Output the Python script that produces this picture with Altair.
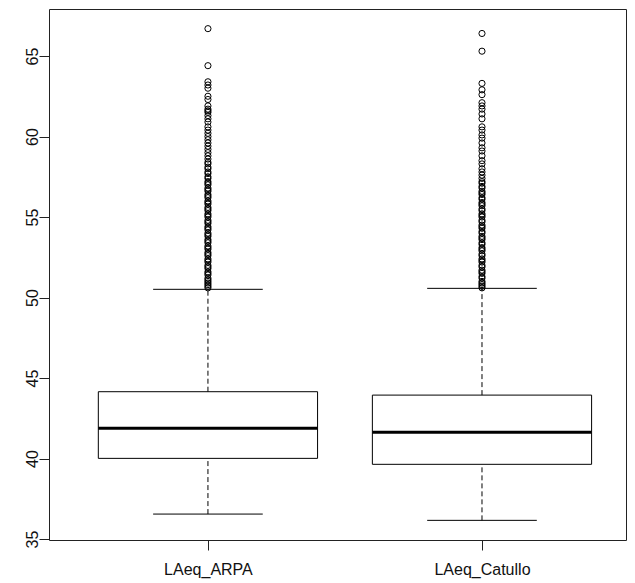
import altair as alt
import pandas as pd

# ---- data ----
groups = ["LAeq_ARPA", "LAeq_Catullo"]
positions = [1, 2]
lower_whisker = [36.55, 36.16]
q1 = [40.01, 39.64]
median = [41.88, 41.63]
q3 = [44.15, 43.94]
upper_whisker = [50.51, 50.57]

outliers_arpa = [66.7, 64.4, 63.4, 63.2, 63.0, 62.5, 62.3, 61.9, 61.7, 61.6, 61.5, 61.3,
                 61.1, 60.9, 60.6, 60.4, 60.2, 60.0, 59.8, 59.6, 59.4, 59.2, 59.0, 58.8,
                 58.6, 58.4, 58.3, 58.1, 58.0, 57.8, 57.7, 57.5, 57.4, 57.2, 57.1, 57.0,
                 56.8, 56.7, 56.6, 56.4, 56.3, 56.2, 56.0, 55.9, 55.8, 55.6, 55.5, 55.4,
                 55.2, 55.1, 55.0, 54.8, 54.7, 54.6, 54.4, 54.3, 54.2, 54.0, 53.9, 53.8,
                 53.6, 53.5, 53.4, 53.2, 53.1, 53.0, 52.8, 52.7, 52.6, 52.4, 52.3, 52.2,
                 52.0, 51.9, 51.8, 51.6, 51.5, 51.4, 51.2, 51.1, 51.0, 50.9, 50.8, 50.7,
                 50.6]
outliers_catullo = [66.4, 65.3, 63.3, 62.9, 62.6, 62.1, 61.9, 61.7, 61.4, 61.1, 60.6, 60.4,
                    60.1, 59.9, 59.6, 59.3, 59.1, 58.8, 58.5, 58.3, 58.0, 57.8, 57.6, 57.4,
                    57.2, 57.1, 56.9, 56.8, 56.6, 56.5, 56.4, 56.2, 56.1, 55.9, 55.8, 55.7,
                    55.5, 55.4, 55.2, 55.1, 55.0, 54.8, 54.7, 54.5, 54.4, 54.3, 54.1, 54.0,
                    53.8, 53.7, 53.6, 53.4, 53.3, 53.1, 53.0, 52.9, 52.7, 52.6, 52.4, 52.3,
                    52.2, 52.0, 51.9, 51.7, 51.6, 51.5, 51.3, 51.2, 51.0, 50.9, 50.8, 50.7,
                    50.6]

y_ticks = [35, 40, 45, 50, 55, 60, 65]

stats = pd.DataFrame({
    "group": groups, "pos": positions, "lo": lower_whisker, "q1": q1,
    "med": median, "q3": q3, "hi": upper_whisker,
})
out = pd.DataFrame({
    "pos": [1] * len(outliers_arpa) + [2] * len(outliers_catullo),
    "value": outliers_arpa + outliers_catullo,
})

FONT = "Liberation Sans"
xscale = alt.Scale(domain=[0.42, 2.5255], nice=False, zero=False)
yscale = alt.Scale(domain=[34.94, 67.92], nice=False, zero=False)

xaxis = alt.Axis(values=[1, 2], title=None, domain=False, grid=False, tickSize=10,
                 tickColor="#222", labelPadding=11, labelFontSize=16, labelFont=FONT,
                 labelColor="#111", labelBaseline="top",
                 labelExpr="datum.value == 1 ? 'LAeq_ARPA' : 'LAeq_Catullo'")
yaxis = alt.Axis(values=y_ticks, title=None, domain=False, grid=False, tickSize=10,
                 tickColor="#222", labelPadding=2, labelFontSize=16, labelFont=FONT,
                 labelColor="#111", labelAngle=270, labelAlign="center",
                 labelBaseline="alphabetic")

base = alt.Chart(stats).transform_calculate(
    bl="datum.pos - 0.4", br="datum.pos + 0.4",
    cl="datum.pos - 0.2", cr="datum.pos + 0.2",
)

box = base.mark_rect(fill=None, stroke="black", strokeWidth=1).encode(
    x=alt.X("bl:Q", scale=xscale, axis=xaxis), x2="br:Q",
    y=alt.Y("q1:Q", scale=yscale, axis=yaxis), y2="q3:Q",
)
med = base.mark_rule(color="black", strokeWidth=3).encode(
    x=alt.X("bl:Q", scale=xscale), x2="br:Q", y=alt.Y("med:Q", scale=yscale)
)
whisk_up = base.mark_rule(color="black", strokeWidth=1, strokeDash=[5, 3]).encode(
    x=alt.X("pos:Q", scale=xscale), y=alt.Y("q3:Q", scale=yscale), y2="hi:Q"
)
whisk_lo = base.mark_rule(color="black", strokeWidth=1, strokeDash=[5, 3]).encode(
    x=alt.X("pos:Q", scale=xscale), y=alt.Y("lo:Q", scale=yscale), y2="q1:Q"
)
cap_up = base.mark_rule(color="black", strokeWidth=1).encode(
    x=alt.X("cl:Q", scale=xscale), x2="cr:Q", y=alt.Y("hi:Q", scale=yscale)
)
cap_lo = base.mark_rule(color="black", strokeWidth=1).encode(
    x=alt.X("cl:Q", scale=xscale), x2="cr:Q", y=alt.Y("lo:Q", scale=yscale)
)
pts = alt.Chart(out).mark_point(shape="circle", filled=False, color="black",
                                size=38, strokeWidth=1, opacity=1).encode(
    x=alt.X("pos:Q", scale=xscale), y=alt.Y("value:Q", scale=yscale)
)

chart = alt.layer(box, whisk_up, whisk_lo, cap_up, cap_lo, med, pts).properties(
    width=577, height=531,
    autosize=alt.AutoSizeParams(type="none"),
    padding={"left": 41, "top": 1, "right": 1, "bottom": 43},
    background="white",
).configure_view(stroke="#222", strokeWidth=1)

chart.save("out.html", embed_options={"renderer": "svg", "actions": False})
